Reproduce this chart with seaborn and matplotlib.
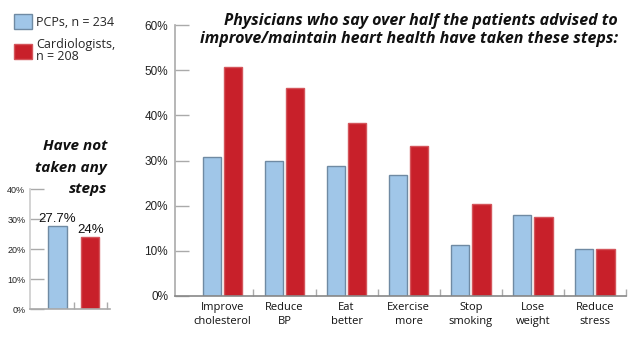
import matplotlib
matplotlib.use("Agg")
import matplotlib.pyplot as plt
from matplotlib.patches import Patch
from matplotlib.ticker import FixedLocator, PercentFormatter
import seaborn as sns
import pandas as pd

# ---- data ----
steps = ["Improve\ncholesterol", "Reduce\nBP", "Eat\nbetter", "Exercise\nmore",
         "Stop\nsmoking", "Lose\nweight", "Reduce\nstress"]
pcp_values = [30.7, 29.8, 28.7, 26.9, 11.3, 17.9, 10.4]
cardio_values = [50.6, 46.1, 38.3, 33.3, 20.3, 17.5, 10.4]
groups = ["PCPs, n = 234", "Cardiologists,\nn = 208"]
none_values = [27.7, 24.0]
main_ticks = [0, 10, 20, 30, 40, 50, 60]
inset_ticks = [0, 10, 20, 30, 40]
title_main = "Physicians who say over half the patients advised to\nimprove/maintain heart health have taken these steps:"
title_inset = "Have not\ntaken any\nsteps"

fill_colors = ["#A0C6E8", "#C8202A"]
edge_colors = ["#6F8AA3", "#D4555B"]

sns.set_theme(style="white")
plt.rcParams["font.family"] = ["DejaVu Sans"]

fig = plt.figure(figsize=(6.43, 3.43), dpi=100)

df = pd.DataFrame({
    "step": steps * 2,
    "group": [groups[0]] * len(steps) + [groups[1]] * len(steps),
    "value": pcp_values + cardio_values,
})

# ---- main axes ----
W, H = 643, 343
ax = fig.add_axes([175 / W, (H - 296) / H, 451 / W, 271 / H])
sns.barplot(data=df, x="step", y="value", hue="group", hue_order=groups,
            palette=fill_colors, saturation=1, width=0.686, gap=0.14,
            legend=False, ax=ax, linewidth=1.0)
for cont, ec in zip(ax.containers, edge_colors):
    for bar in cont:
        bar.set_edgecolor(ec)

ax.set_ylim(0, 60)
ax.set_xlim(-0.763, 6.5)
ax.set_xlabel("")
ax.set_ylabel("")
ax.yaxis.set_major_locator(FixedLocator(main_ticks))
ax.yaxis.set_major_formatter(PercentFormatter(decimals=0))
ax.tick_params(axis="y", direction="in", length=10, width=1, color="#AAAAAA",
               labelsize=8.5, pad=5, left=True)
for lab in ax.get_yticklabels():
    lab.set_family("Liberation Sans")
    lab.set_color("#222222")
ax.tick_params(axis="x", which="major", length=0, labelsize=8, pad=4, labelcolor="#111111")
for lab in ax.get_xticklabels():
    lab.set_family("Open Sans")
    lab.set_linespacing(1.4)
ax.xaxis.set_minor_locator(FixedLocator([i + 0.5 for i in range(len(steps))]))
ax.tick_params(axis="x", which="minor", direction="in", length=5, width=1,
               color="#AAAAAA", bottom=True)
for side in ["top", "right"]:
    ax.spines[side].set_visible(False)
ax.spines["left"].set_color("#AAAAAA")
ax.spines["bottom"].set_color("#888888")
ax.spines["left"].set_linewidth(1.2)
ax.spines["bottom"].set_linewidth(1.2)

fig.text(618 / W, 1 - 13 / H, title_main, ha="right", va="top",
         fontsize=11.5, fontweight="bold", style="italic", family="Open Sans",
         linespacing=1.15, color="#111111")

# ---- legend ----
handles = [Patch(facecolor=fc, edgecolor=ec, linewidth=1) for fc, ec in zip(fill_colors, edge_colors)]
leg = fig.legend(handles, groups, loc="upper left", bbox_to_anchor=(3 / W, 1 - 3 / H),
                 frameon=False, handlelength=1.45, handleheight=1.45, handletextpad=0.3,
                 labelspacing=0.75, prop={"family": "Open Sans", "size": 9})
for t in leg.get_texts():
    t.set_linespacing(0.85)

# ---- inset axes ----
dfi = pd.DataFrame({"group": groups, "value": none_values})
axi = fig.add_axes([29.5 / W, (H - 309.3) / H, 80 / W, 120 / H])
sns.barplot(data=dfi, x="group", y="value", hue="group", hue_order=groups,
            palette=fill_colors, saturation=1, width=0.56, legend=False, ax=axi,
            linewidth=1.0)
for cont, ec in zip(axi.containers, edge_colors):
    for bar in cont:
        bar.set_edgecolor(ec)
for cont, v in zip(axi.containers, none_values):
    axi.bar_label(cont, labels=[f"{v:g}%"], padding=1, fontsize=9.5,
                  family="Liberation Sans", color="#111111")
axi.set_ylim(0, 40)
axi.set_xlim(-0.856, 1.59)
axi.set_xlabel("")
axi.set_ylabel("")
axi.yaxis.set_major_locator(FixedLocator(inset_ticks))
axi.yaxis.set_major_formatter(PercentFormatter(decimals=0))
axi.tick_params(axis="y", direction="in", length=10, width=1, color="#AAAAAA",
                labelsize=6.5, pad=3, left=True)
for lab in axi.get_yticklabels():
    lab.set_family("Liberation Sans")
    lab.set_color("#222222")
axi.set_xticks([])
axi.xaxis.set_minor_locator(FixedLocator([0.5, 1.5]))
axi.tick_params(axis="x", which="minor", direction="in", length=5, width=1,
                color="#AAAAAA", bottom=True)
for side in ["top", "right"]:
    axi.spines[side].set_visible(False)
axi.spines["left"].set_color("#CCCCCC")
axi.spines["bottom"].set_color("#AAAAAA")
axi.spines["left"].set_linewidth(1.2)
axi.spines["bottom"].set_linewidth(1.2)

fig.text(107 / W, 1 - 139 / H, title_inset, ha="right", va="top",
         fontsize=11, fontweight="bold", style="italic", family="Open Sans",
         linespacing=1.7, color="#111111")

fig.savefig("out.png", dpi=100)
